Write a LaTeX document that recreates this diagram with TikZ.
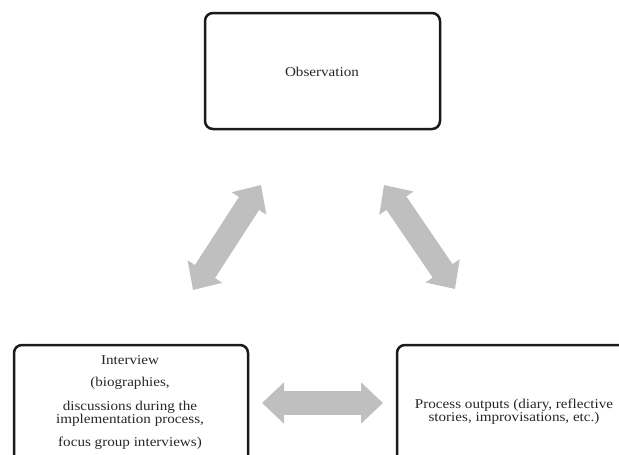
\documentclass[tikz,border=0pt]{standalone}
\usepackage{fontspec}
\setmainfont{Liberation Serif}[FakeStretch=1.12]
\usetikzlibrary{arrows.meta}
\definecolor{arrowgray}{HTML}{BFBFBF}
\definecolor{boxline}{HTML}{1A1A1A}
\begin{document}
\begin{tikzpicture}[x=1pt,y=-1pt,
  box/.style={draw=boxline,line width=2.5pt,rounded corners=8pt},
  lbl/.style={font=\fontsize{13.5}{13}\selectfont,align=center,inner sep=0pt,text=black!85},
  dblarrow/.style={draw=arrowgray,line width=24pt,
    {Triangle[length=22pt,width=40pt]}-{Triangle[length=22pt,width=40pt]},
    arrowgray}]
\useasboundingbox (0,0) rectangle (619,455);
\clip (0,0) rectangle (619,455);
% boxes
\draw[box] (205,13) rectangle (440,129);
\draw[box] (14,345) rectangle (248,472);
\draw[box] (397,345) rectangle (636,480);
% labels
\node[lbl] (obs) at (322,72) {Observation};
\node[lbl] (int) at (130,402) {Interview\\[9pt](biographies,\\[11pt]discussions during the\\implementation process,\\[10pt]focus group interviews)};
\node[lbl] (proc) at (514,412) {Process outputs (diary, reflective\\stories, improvisations, etc.)};
% arrow end points
\coordinate (l1) at (261,185);
\coordinate (l2) at (193,290);
\coordinate (r1) at (384,185);
\coordinate (r2) at (455,289);
\coordinate (h1) at (262,403);
\coordinate (h2) at (383,403);
\draw[dblarrow] (l1) -- (l2);
\draw[dblarrow] (r1) -- (r2);
\draw[dblarrow] (h1) -- (h2);
\end{tikzpicture}
\end{document}
